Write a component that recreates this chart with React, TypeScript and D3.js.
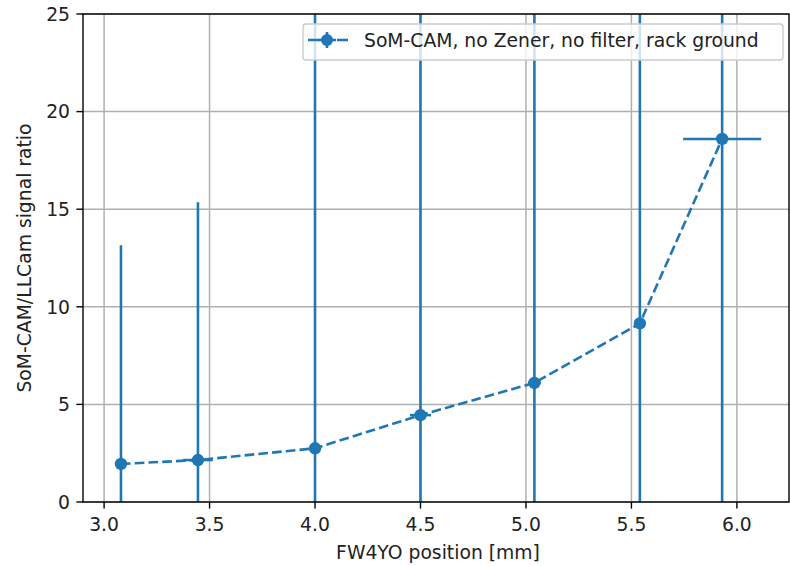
import React, { useEffect, useRef } from "react";
import * as d3 from "d3";

const xPos = [3.08, 3.445, 4.0, 4.5, 5.04, 5.54, 5.93];
const ratio = [1.95, 2.15, 2.75, 4.45, 6.1, 9.15, 18.6];
const xErr = [0.0, 0.07, 0.0, 0.05, 0.03, 0.0, 0.185];
const yErr = [11.2, 13.2, 30, 28, 26, 24, 22];
const xTicks = [3.0, 3.5, 4.0, 4.5, 5.0, 5.5, 6.0];
const yTicks = [0, 5, 10, 15, 20, 25];
const legendLabel = "SoM-CAM, no Zener, no filter, rack ground";

const W = 790;
const H = 566;
const blue = "#1f77b4";
const font = "DejaVu Sans, sans-serif";
const fs = 18.75;
const lw = 2.6;
const dash = `${3.7 * lw},${1.6 * lw}`;

const App = () => {
  const ref = useRef<SVGSVGElement>(null);

  useEffect(() => {
    const svg = d3.select(ref.current);
    svg.selectAll("*").remove();

    const left = 83, right = 789, top = 14, bottom = 502;
    const x = d3.scaleLinear().domain([2.9, 6.247]).range([left, right]);
    const y = d3.scaleLinear().domain([0, 25]).range([bottom, top]);

    svg.append("defs").append("clipPath").attr("id", "plotclip")
      .append("rect").attr("x", left).attr("y", top)
      .attr("width", right - left).attr("height", bottom - top);

    // grid
    const grid = svg.append("g").attr("stroke", "#b0b0b0").attr("stroke-width", 1.5);
    grid.selectAll("line.gx").data(xTicks).enter().append("line")
      .attr("x1", (d) => x(d)).attr("x2", (d) => x(d))
      .attr("y1", top).attr("y2", bottom);
    grid.selectAll("line.gy").data(yTicks).enter().append("line")
      .attr("x1", left).attr("x2", right)
      .attr("y1", (d) => y(d)).attr("y2", (d) => y(d));

    const data = xPos.map((v, i) => ({ x: v, y: ratio[i], xe: xErr[i], ye: yErr[i] }));
    const plot = svg.append("g").attr("clip-path", "url(#plotclip)");

    // error bars
    plot.selectAll("line.ey").data(data).enter().append("line")
      .attr("x1", (d) => x(d.x)).attr("x2", (d) => x(d.x))
      .attr("y1", (d) => y(d.y - d.ye)).attr("y2", (d) => y(d.y + d.ye))
      .attr("stroke", blue).attr("stroke-width", lw);
    plot.selectAll("line.ex").data(data.filter((d) => d.xe > 0)).enter().append("line")
      .attr("x1", (d) => x(d.x - d.xe)).attr("x2", (d) => x(d.x + d.xe))
      .attr("y1", (d) => y(d.y)).attr("y2", (d) => y(d.y))
      .attr("stroke", blue).attr("stroke-width", lw);

    // dashed line
    const line = d3.line<any>().x((d) => x(d.x)).y((d) => y(d.y));
    plot.append("path").datum(data).attr("d", line)
      .attr("fill", "none").attr("stroke", blue)
      .attr("stroke-width", lw).attr("stroke-dasharray", dash);

    plot.selectAll("circle").data(data).enter().append("circle")
      .attr("cx", (d) => x(d.x)).attr("cy", (d) => y(d.y))
      .attr("r", 6.2).attr("fill", blue);

    // spines
    svg.append("rect").attr("x", left).attr("y", top)
      .attr("width", right - left).attr("height", bottom - top)
      .attr("fill", "none").attr("stroke", "#000").attr("stroke-width", 1.4);

    // ticks
    const ax = svg.append("g").attr("font-family", font).attr("font-size", fs).attr("fill", "#222");
    xTicks.forEach((t) => {
      ax.append("line").attr("x1", x(t)).attr("x2", x(t)).attr("y1", bottom).attr("y2", bottom + 6.6)
        .attr("stroke", "#000").attr("stroke-width", 1.4);
      ax.append("text").attr("x", x(t)).attr("y", 531).attr("text-anchor", "middle")
        .text(t.toFixed(1));
    });
    yTicks.forEach((t) => {
      ax.append("line").attr("x1", left - 6.6).attr("x2", left).attr("y1", y(t)).attr("y2", y(t))
        .attr("stroke", "#000").attr("stroke-width", 1.4);
      ax.append("text").attr("x", 70).attr("y", y(t) + 6.7).attr("text-anchor", "end")
        .text(String(t));
    });
    ax.append("text").attr("x", (left + right) / 2 + 2).attr("y", 559).attr("text-anchor", "middle")
      .text("FW4YO position [mm]");
    ax.append("text").attr("transform", `translate(31,${(top + bottom) / 2}) rotate(-90)`)
      .attr("text-anchor", "middle").text("SoM-CAM/LLCam signal ratio");

    // legend
    const lg = svg.append("g");
    lg.append("rect").attr("x", 303).attr("y", 24).attr("width", 480).attr("height", 36)
      .attr("rx", 3).attr("fill", "#fff").attr("fill-opacity", 0.8)
      .attr("stroke", "#cccccc").attr("stroke-width", 1.4);
    const hy = 40;
    lg.append("line").attr("x1", 308).attr("x2", 348).attr("y1", hy).attr("y2", hy)
      .attr("stroke", blue).attr("stroke-width", lw).attr("stroke-dasharray", "11,7,4,7,11");
    lg.append("line").attr("x1", 327).attr("x2", 327).attr("y1", hy - 8).attr("y2", hy + 8)
      .attr("stroke", blue).attr("stroke-width", lw);
    lg.append("line").attr("x1", 318).attr("x2", 336).attr("y1", hy).attr("y2", hy)
      .attr("stroke", blue).attr("stroke-width", lw);
    lg.append("circle").attr("cx", 327).attr("cy", hy).attr("r", 6).attr("fill", blue);
    lg.append("text").attr("x", 364).attr("y", hy + 7).attr("font-family", font)
      .attr("font-size", fs).attr("fill", "#222").text(legendLabel);
  }, []);

  return (
    <svg ref={ref} width={W} height={H}
      style={{ position: "absolute", left: 0, top: 0, background: "#fff" }} />
  );
};

export default App;
